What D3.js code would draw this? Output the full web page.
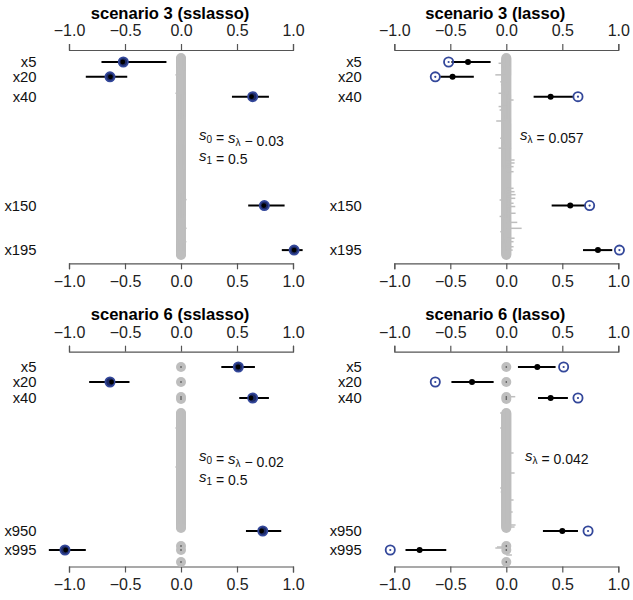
<!DOCTYPE html>
<html><head><meta charset="utf-8">
<script src="https://cdn.jsdelivr.net/npm/d3@7"></script>
<style>body{margin:0;background:#fff}svg{display:block}text{font-family:"Liberation Sans",Arial,sans-serif}</style>
</head><body>
<script>
// ---------- data ----------
const xTicks = [-1, -0.5, 0, 0.5, 1];

// scenario 3 (200 variables)
const sc3Vars = ["x5", "x20", "x40", "x150", "x195"];
const sc3Row = [5, 20, 40, 150, 195];
const sc3Truth = [-0.515, -0.634, 0.64, 0.744, 1.01];
const sc3SslEst = [-0.52, -0.63, 0.63, 0.74, 1.01];
const sc3SslLo = [-0.71, -0.85, 0.455, 0.60, 0.90];
const sc3SslHi = [-0.13, -0.48, 0.785, 0.925, 1.086];
const sc3LasEst = [-0.342, -0.48, 0.396, 0.571, 0.818];
const sc3LasLo = [-0.49, -0.59, 0.244, 0.405, 0.685];
const sc3LasHi = [-0.14, -0.29, 0.595, 0.708, 0.946];
const sc3NullRows = d3.range(1, 201);
// null-variable intervals that stick out of the grey band
const sc3SslNullRow = [18, 36.6, 144, 173, 186.5];
const sc3SslNullLo = [-0.05, -0.05, 0, 0, 0];
const sc3SslNullHi = [0, 0, 0.05, 0.05, 0.048];
const sc3LasNullRow = [6.3, 18, 25, 28, 36.6, 43.4, 50, 53.5, 64.6, 82, 92, 104, 107, 110.7, 115.8, 132.6, 136, 139, 142.7, 144.4, 147.7, 151, 157.8, 161, 167, 173, 176.4, 183, 186.5, 191.6, 195];
const sc3LasNullLo = [-0.069, -0.098, -0.054, -0.048, -0.069, 0, -0.069, -0.06, -0.09, -0.054, -0.069, 0, 0, 0, 0, 0, 0, 0, 0, -0.06, 0, 0, 0, -0.06, 0, 0, -0.054, 0, 0, 0, 0];
const sc3LasNullHi = [0, 0, 0, 0, 0, 0.065, 0, 0, 0, 0, 0, 0.074, 0.074, 0.065, 0.065, 0.065, 0.074, 0.083, 0.08, 0, 0.065, 0.08, 0.083, 0, 0.098, 0.137, 0, 0.074, 0.065, 0.065, 0.057];

// scenario 6 (display rows)
const sc6Vars = ["x5", "x20", "x40", "x950", "x995"];
const sc6Row = [10, 25, 41, 174, 193];
const sc6Truth = [0.512, -0.634, 0.64, 0.73, -1.036];
const sc6SslEst = [0.51, -0.62, 0.625, 0.72, -1.03];
const sc6SslLo = [0.36, -0.82, 0.52, 0.58, -1.18];
const sc6SslHi = [0.66, -0.46, 0.785, 0.895, -0.85];
const sc6LasEst = [0.277, -0.306, 0.396, 0.5, -0.774];
const sc6LasLo = [0.104, -0.49, 0.283, 0.327, -0.90];
const sc6LasHi = [0.44, -0.113, 0.55, 0.64, -0.536];
const sc6NullRows = [10, 25, 40, 42].concat(d3.range(56, 172), [189, 193, 205]);
const sc6SslNullRow = [71, 110];
const sc6SslNullLo = [-0.05, -0.05];
const sc6SslNullHi = [0, 0];
const sc6LasNullRow = [39.7, 56, 71, 96, 116, 131, 135, 143, 155, 168, 170, 190, 191, 198];
const sc6LasNullLo = [0, -0.055, -0.054, 0, 0, -0.054, -0.05, 0, 0, 0, 0, -0.083, -0.098, 0];
const sc6LasNullHi = [0.08, 0, 0, 0.065, 0.074, 0, 0, 0.065, 0.057, 0.083, 0.074, 0, 0, 0.05];

// ---------- layout ----------
const W = 633, H = 600;
const svg = d3.select("body").append("svg").attr("width", W).attr("height", H);

const panels = [
  {title: "scenario 3 (sslasso)", x0: 69, top: 50, bottom: 263.3, yr: [57.05, 269.9],
   vars: sc3Vars, row: sc3Row, truth: sc3Truth, est: sc3SslEst, lo: sc3SslLo, hi: sc3SslHi, lasso: false,
   nulls: sc3NullRows, nRow: sc3SslNullRow, nLo: sc3SslNullLo, nHi: sc3SslNullHi,
   note: [["s", "0", " = ", "s", "λ", " − 0.03"], ["s", "1", " = 0.5"]], noteY: 135, noteX: 199},
  {title: "scenario 3 (lasso)", x0: 394.3, top: 50, bottom: 263.3, yr: [57.05, 269.9],
   vars: sc3Vars, row: sc3Row, truth: sc3Truth, est: sc3LasEst, lo: sc3LasLo, hi: sc3LasHi, lasso: true,
   nulls: sc3NullRows, nRow: sc3LasNullRow, nLo: sc3LasNullLo, nHi: sc3LasNullHi,
   note: [["s", "λ", " = 0.057"]], noteY: 135, noteX: 520},
  {title: "scenario 6 (sslasso)", x0: 69, top: 351.7, bottom: 566.5, yr: [357, 572],
   vars: sc6Vars, row: sc6Row, truth: sc6Truth, est: sc6SslEst, lo: sc6SslLo, hi: sc6SslHi, lasso: false,
   nulls: sc6NullRows, nRow: sc6SslNullRow, nLo: sc6SslNullLo, nHi: sc6SslNullHi, sep: true,
   note: [["s", "0", " = ", "s", "λ", " − 0.02"], ["s", "1", " = 0.5"]], noteY: 456, noteX: 199},
  {title: "scenario 6 (lasso)", x0: 394.3, top: 351.7, bottom: 566.5, yr: [357, 572],
   vars: sc6Vars, row: sc6Row, truth: sc6Truth, est: sc6LasEst, lo: sc6LasLo, hi: sc6LasHi, lasso: true,
   nulls: sc6NullRows, nRow: sc6LasNullRow, nLo: sc6LasNullLo, nHi: sc6LasNullHi, sep: true,
   note: [["s", "λ", " = 0.042"]], noteY: 456, noteX: 525}
];

const BLUE = "#33479a", GREY = "#bebebe";

panels.forEach(p => {
  const x = d3.scaleLinear().domain([-1, 1]).range([p.x0, p.x0 + 224]);
  const y = d3.scaleLinear().domain([0, 215]).range(p.yr);
  const g = svg.append("g");

  // title
  g.append("text").attr("x", x(0) - 11).attr("y", p.top - 31.5)
    .attr("text-anchor", "middle").attr("font-size", 16.6).attr("font-weight", "bold")
    .attr("fill", "#000").text(p.title);

  // axes
  const fmt = d => d3.format(".1f")(d).replace("-", "−");
  const at = g.append("g").attr("transform", `translate(0,${p.top})`)
    .call(d3.axisTop(x).tickValues(xTicks).tickFormat(fmt).tickSizeOuter(0).tickSize(6).tickPadding(8));
  const ab = g.append("g").attr("transform", `translate(0,${p.bottom})`)
    .call(d3.axisBottom(x).tickValues(xTicks).tickFormat(fmt).tickSizeOuter(0).tickSize(6).tickPadding(6));
  [at, ab].forEach(a => {
    a.selectAll("path,line").attr("stroke", "#555").attr("stroke-width", 1.2);
    a.selectAll("text").attr("font-size", 16).attr("fill", "#222")
      .attr("font-family", "'Liberation Sans',Arial,sans-serif");
  });

  // grey null circles
  g.append("g").selectAll("circle").data(p.nulls).join("circle")
    .attr("cx", x(0)).attr("cy", d => y(d)).attr("r", 5).attr("fill", GREY);
  // grey null intervals
  g.append("g").selectAll("line").data(p.nRow).join("line")
    .attr("x1", (d, i) => x(p.nLo[i])).attr("x2", (d, i) => x(p.nHi[i]))
    .attr("y1", d => y(d)).attr("y2", d => y(d))
    .attr("stroke", GREY).attr("stroke-width", 1.5);
  if (p.sep) {
    g.append("g").selectAll("circle").data(p.nulls.filter(r => r < 50 || r > 180)).join("circle")
      .attr("cx", x(0)).attr("cy", d => y(d)).attr("r", 0.8).attr("fill", "#333");
  }

  // variable labels
  g.append("g").selectAll("text").data(p.vars).join("text")
    .attr("x", p.x0 - 32.5).attr("y", (d, i) => y(p.row[i])).attr("dy", "0.35em")
    .attr("text-anchor", "end").attr("font-size", 14.8).attr("fill", "#111").text(d => d);

  // intervals
  g.append("g").selectAll("line").data(p.row).join("line")
    .attr("x1", (d, i) => x(p.lo[i])).attr("x2", (d, i) => x(p.hi[i]))
    .attr("y1", d => y(d)).attr("y2", d => y(d))
    .attr("stroke", "#000").attr("stroke-width", 2);

  // truth rings
  const rings = g.append("g").selectAll("g").data(p.row).join("g");
  rings.append("circle").attr("cx", (d, i) => x(p.truth[i])).attr("cy", d => y(d)).attr("r", 4.6)
    .attr("fill", p.lasso ? "none" : "#1d2a66").attr("stroke", BLUE).attr("stroke-width", 1.8);
  if (p.lasso) {
    rings.append("circle").attr("cx", (d, i) => x(p.truth[i])).attr("cy", d => y(d)).attr("r", 1.1).attr("fill", BLUE);
  }
  // estimates
  g.append("g").selectAll("circle").data(p.row).join("circle")
    .attr("cx", (d, i) => x(p.est[i])).attr("cy", d => y(d)).attr("r", p.lasso ? 3 : 2.4).attr("fill", "#000");

  // annotation
  p.note.forEach((parts, li) => {
    const t = g.append("text").attr("x", p.noteX).attr("y", p.noteY + li * 21).attr("dy", "0.35em")
      .attr("font-size", 14).attr("fill", "#111");
    for (let k = 0; k < parts.length; k++) {
      const s = parts[k];
      if (s === "s") {
        t.append("tspan").attr("font-style", "italic").attr("font-size", 15).text("s");
        const sub = parts[k + 1];
        t.append("tspan").attr("font-size", 10).attr("dy", 3).text(sub);
        t.append("tspan").attr("dy", -3).text("");
        k++;
      } else {
        t.append("tspan").text(s);
      }
    }
  });
});
</script>
</body></html>
